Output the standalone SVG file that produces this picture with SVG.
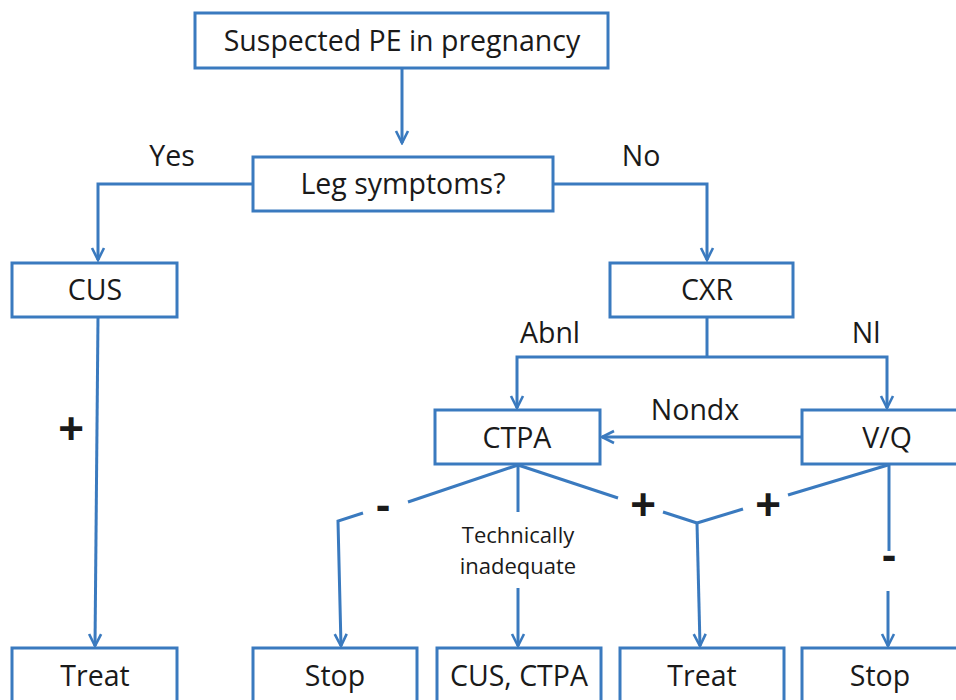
<svg xmlns="http://www.w3.org/2000/svg" width="956" height="700" viewBox="0 0 956 700">
  <defs>
    <marker id="arr" viewBox="0 0 16 16" refX="14" refY="8" markerWidth="16" markerHeight="16" markerUnits="userSpaceOnUse" orient="auto">
      <path d="M2,2 L14,8 L2,14" fill="none" stroke="#3a7abf" stroke-width="2.6"/>
    </marker>
    <style>
      .box { fill: #ffffff; stroke: #3a7abf; stroke-width: 3; }
      .ln { fill: none; stroke: #3a7abf; stroke-width: 3; }
      .t { font-family: "Open Sans", "Liberation Sans", sans-serif; font-size: 28.5px; fill: #1a1a1a; text-anchor: middle; }
      .s { font-family: "Open Sans", "Liberation Sans", sans-serif; font-size: 22px; fill: #1a1a1a; text-anchor: middle; }
      .sign { font-family: "Liberation Sans", sans-serif; font-weight: bold; font-size: 44px; fill: #1a1a1a; text-anchor: middle; }
    </style>
  </defs>
  <rect width="956" height="700" fill="#ffffff"/>

  <!-- connectors -->
  <g id="connectors">
    <line class="ln" x1="402" y1="68" x2="402" y2="143" marker-end="url(#arr)"/>
    <polyline class="ln" points="253,184 98,184 98,260" marker-end="url(#arr)"/>
    <polyline class="ln" points="553,184 707,184 707,260" marker-end="url(#arr)"/>
    <line class="ln" x1="98" y1="317" x2="95" y2="646" marker-end="url(#arr)"/>
    <line class="ln" x1="707" y1="317" x2="707" y2="357"/>
    <polyline class="ln" points="707,357 517,357 517,408" marker-end="url(#arr)"/>
    <polyline class="ln" points="707,357 887,357 887,408" marker-end="url(#arr)"/>
    <line class="ln" x1="802" y1="437" x2="602" y2="437" marker-end="url(#arr)"/>
    <!-- CTPA negative -->
    <line class="ln" x1="518" y1="465" x2="408" y2="502"/>
    <polyline class="ln" points="363,513 338,521 341,646" marker-end="url(#arr)"/>
    <!-- CTPA technically inadequate -->
    <line class="ln" x1="518" y1="465" x2="518" y2="512"/>
    <line class="ln" x1="518" y1="588" x2="518" y2="646" marker-end="url(#arr)"/>
    <!-- CTPA positive -->
    <line class="ln" x1="518" y1="465" x2="618" y2="498"/>
    <line class="ln" x1="663" y1="512" x2="697" y2="523"/>
    <!-- V/Q positive -->
    <line class="ln" x1="888" y1="465" x2="788" y2="495"/>
    <line class="ln" x1="743" y1="509" x2="697" y2="523"/>
    <line class="ln" x1="697" y1="523" x2="700" y2="646" marker-end="url(#arr)"/>
    <!-- V/Q negative -->
    <line class="ln" x1="889" y1="465" x2="889" y2="551"/>
    <line class="ln" x1="888" y1="591" x2="888" y2="646" marker-end="url(#arr)"/>
  </g>

  <!-- connector labels -->
  <g id="labels">
    <text class="t" x="172" y="166">Yes</text>
    <text class="t" x="641" y="166">No</text>
    <text class="t" x="550" y="343">Abnl</text>
    <text class="t" x="866" y="343">Nl</text>
    <text class="t" x="695" y="420">Nondx</text>
    <text class="sign" x="71" y="444">+</text>
    <text class="sign" x="383" y="520">-</text>
    <text class="sign" x="643" y="520">+</text>
    <text class="sign" x="768" y="520">+</text>
    <text class="sign" x="889" y="570">-</text>
    <text class="s" x="518" y="543">Technically</text>
    <text class="s" x="518" y="574">inadequate</text>
  </g>

  <g id="start">
    <rect class="box" x="195" y="13" width="413" height="55"/>
    <text class="t" x="402" y="51">Suspected PE in pregnancy</text>
  </g>
  <g id="leg">
    <rect class="box" x="253" y="157" width="300" height="54"/>
    <text class="t" x="403" y="194">Leg symptoms?</text>
  </g>
  <g id="cus">
    <rect class="box" x="12" y="263" width="165" height="54"/>
    <text class="t" x="95" y="300">CUS</text>
  </g>
  <g id="cxr">
    <rect class="box" x="610" y="263" width="183" height="54"/>
    <text class="t" x="707" y="300">CXR</text>
  </g>
  <g id="ctpa">
    <rect class="box" x="435" y="410" width="165" height="54"/>
    <text class="t" x="517" y="448">CTPA</text>
  </g>
  <g id="vq">
    <rect class="box" x="802" y="410" width="170" height="54"/>
    <text class="t" x="887" y="448">V/Q</text>
  </g>
  <g id="treat1">
    <rect class="box" x="12" y="648" width="165" height="70"/>
    <text class="t" x="95" y="686">Treat</text>
  </g>
  <g id="stop1">
    <rect class="box" x="253" y="648" width="164" height="70"/>
    <text class="t" x="335" y="686">Stop</text>
  </g>
  <g id="cusctpa">
    <rect class="box" x="437" y="648" width="164" height="70"/>
    <text class="t" x="519" y="686">CUS, CTPA</text>
  </g>
  <g id="treat2">
    <rect class="box" x="620" y="648" width="164" height="70"/>
    <text class="t" x="702" y="686">Treat</text>
  </g>
  <g id="stop2">
    <rect class="box" x="802" y="648" width="170" height="70"/>
    <text class="t" x="880" y="686">Stop</text>
  </g>
</svg>
